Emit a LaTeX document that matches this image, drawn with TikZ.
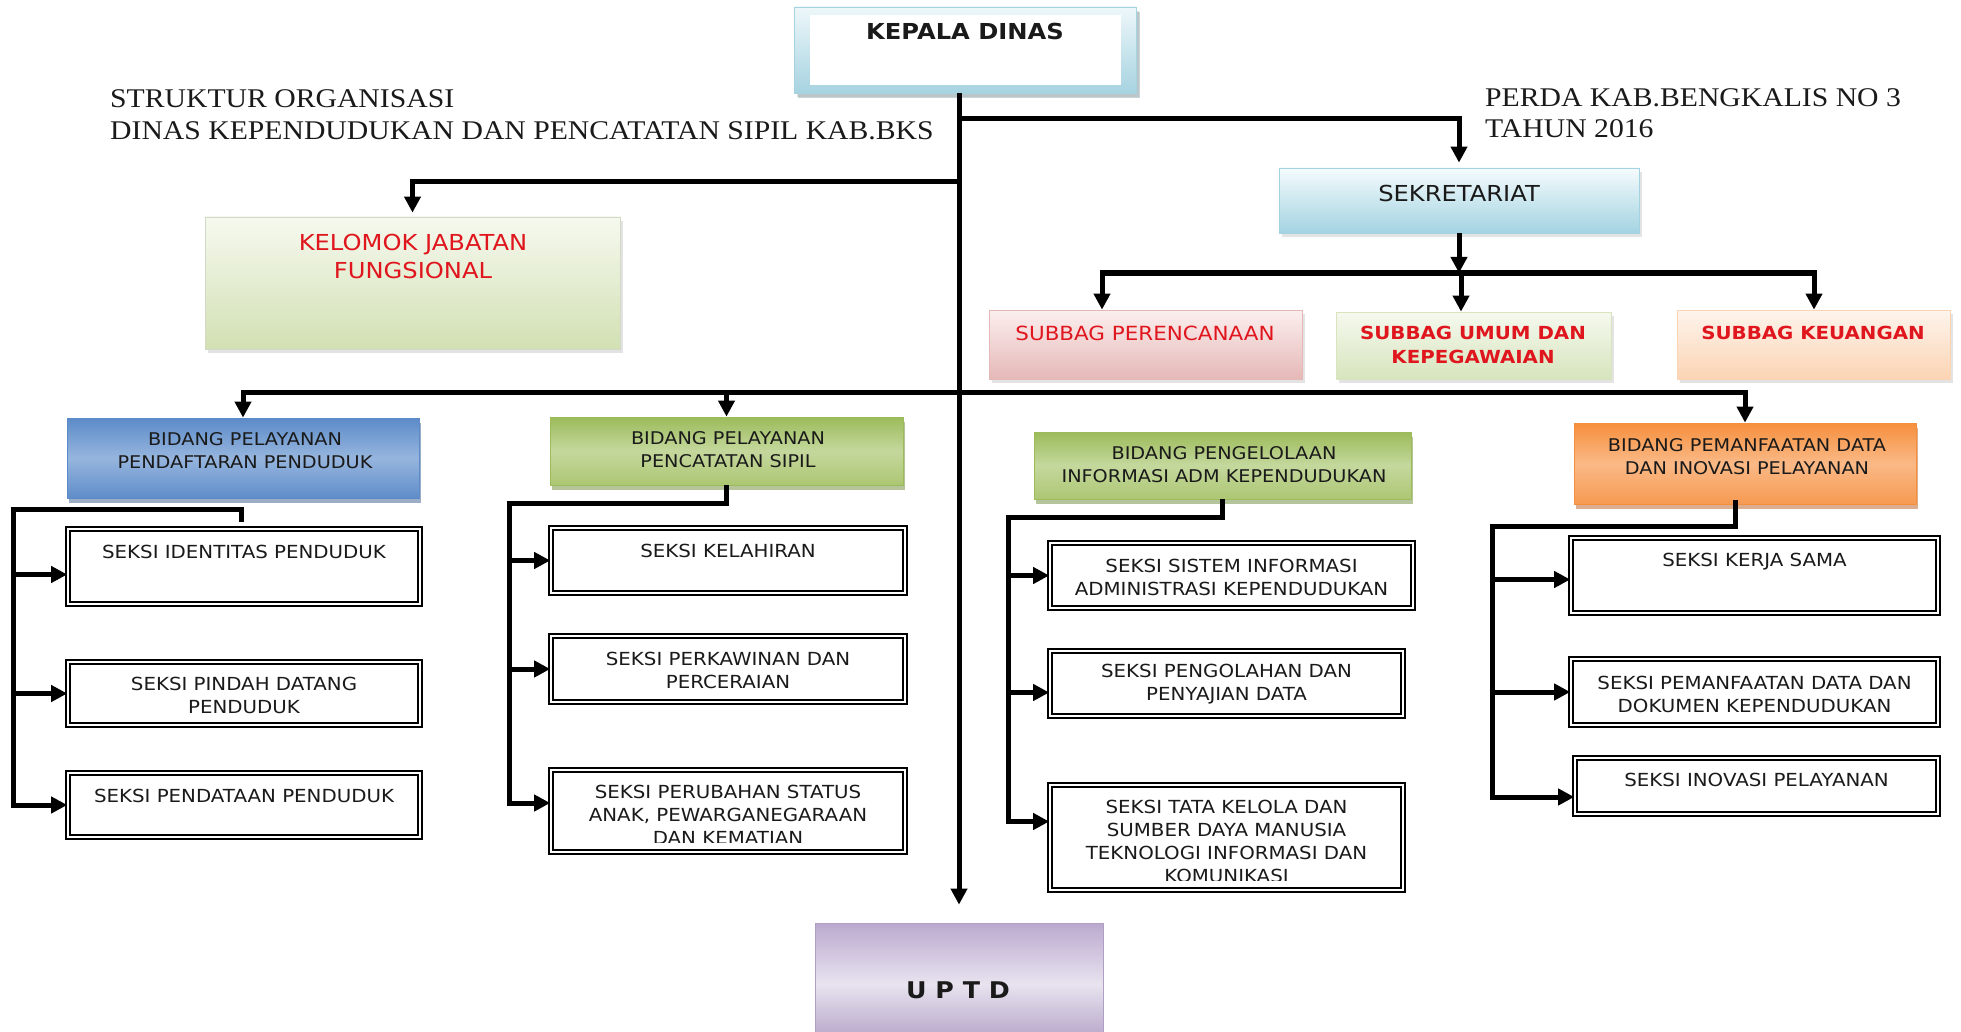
\documentclass[tikz,border=0pt]{standalone}
\usepackage{fontspec}
\setmainfont{Liberation Serif}[FakeStretch=1.1]
\setsansfont{DejaVu Sans}[FakeStretch=1.1]
\usetikzlibrary{arrows.meta,shadows}
\definecolor{ink}{HTML}{1A1A1A}
\definecolor{redink}{HTML}{E0161E}
\definecolor{kdtop}{HTML}{EEF7FA}
\definecolor{kdblue}{HTML}{A6D3E0}
\definecolor{sektop}{HTML}{F5FBFD}
\definecolor{sekblue}{HTML}{A3D3E1}
\definecolor{kjftop}{HTML}{F6F9EF}
\definecolor{kjfgreen}{HTML}{D2E0B3}
\definecolor{sbpinktop}{HTML}{FCEFEF}
\definecolor{sbpink}{HTML}{E5B8B7}
\definecolor{sbgreentop}{HTML}{F5F9EE}
\definecolor{sbgreen}{HTML}{D7E4BD}
\definecolor{sbpeachtop}{HTML}{FEF4EC}
\definecolor{sbpeach}{HTML}{FBD4B4}
\definecolor{bluetop}{HTML}{5B8BC8}
\definecolor{bluemid}{HTML}{96B5DE}
\definecolor{bluebot}{HTML}{5F8DC9}
\definecolor{bluedark}{HTML}{3A5E8E}
\definecolor{grntop}{HTML}{9CBB5A}
\definecolor{grnmid}{HTML}{C4D89D}
\definecolor{grnbot}{HTML}{ADC673}
\definecolor{grndark}{HTML}{6E8A3A}
\definecolor{orgtop}{HTML}{F68F3D}
\definecolor{orgmid}{HTML}{FAB986}
\definecolor{orgbot}{HTML}{F69A52}
\definecolor{orgdark}{HTML}{B85E22}
\definecolor{lavtop}{HTML}{BBA9CF}
\definecolor{lavmid}{HTML}{E8E3EF}
\definecolor{lavbot}{HTML}{B09FC5}
\tikzstyle{heading}=[inner sep=0pt,anchor=base west,text=ink,font=\rmfamily\fontsize{27}{32}\selectfont]
\tikzstyle{txt}=[inner sep=0pt,align=center,text=ink,font=\sffamily\fontsize{18}{23}\selectfont]
\tikzstyle{bigtxt}=[txt,font=\sffamily\fontsize{22}{28}\selectfont]
\tikzstyle{redtxt}=[txt,text=redink,font=\sffamily\fontsize{19.5}{24}\selectfont]
\tikzstyle{redbold}=[txt,text=redink,font=\sffamily\bfseries\fontsize{18}{24}\selectfont]
\tikzstyle{panel}=[rectangle,draw,line width=0.8pt,drop shadow={shadow xshift=3pt,shadow yshift=-4pt,fill=black!22}]
\tikzstyle{kepala}=[panel,draw=kdblue,top color=kdtop,bottom color=kdblue,drop shadow={shadow xshift=4pt,shadow yshift=-5pt,fill=kdblue!50!gray}]
\tikzstyle{sekbox}=[panel,draw=sekblue,top color=sektop,bottom color=sekblue]
\tikzstyle{kjfbox}=[panel,draw=kjfgreen!80!black!50,top color=kjftop,bottom color=kjfgreen]
\tikzstyle{sbbox}=[panel]
\tikzstyle{bidang}=[rectangle,draw,line width=0.8pt]
\tikzstyle{bidblue}=[bidang,draw=bluetop,top color=bluetop,bottom color=bluebot,middle color=bluemid,drop shadow={shadow xshift=2pt,shadow yshift=-5pt,fill=bluedark}]
\tikzstyle{bidgreen}=[bidang,draw=grntop,top color=grntop,bottom color=grnbot,middle color=grnmid,drop shadow={shadow xshift=2pt,shadow yshift=-5pt,fill=grndark}]
\tikzstyle{bidorange}=[bidang,draw=orgtop,top color=orgtop,bottom color=orgbot,middle color=orgmid,drop shadow={shadow xshift=2pt,shadow yshift=-5pt,fill=orgdark}]
\tikzstyle{seksi}=[rectangle,draw=black,line width=1.6pt,double=white,double distance=2.6pt,fill=white]
\tikzstyle{link}=[line width=5pt]
\tikzstyle{arr}=[link,-{Triangle[length=16pt,width=16pt]}]

\begin{document}
\begin{tikzpicture}[x=1pt,y=-1pt]
\useasboundingbox (0,0) rectangle (1961,1032);

% headings
\node[heading] (ttl1) at (110,108) {STRUKTUR ORGANISASI};
\node[heading] (ttl2) at (110,140) {DINAS KEPENDUDUKAN DAN PENCATATAN SIPIL KAB.BKS};
\node[heading] (perda1) at (1485,107) {PERDA KAB.BENGKALIS NO 3};
\node[heading] (perda2) at (1485,138) {TAHUN 2016};

% top level
\node[kepala,minimum width=342pt,minimum height=86pt] (kd) at (965,50) {};
\node[rectangle,fill=white,minimum width=311pt,minimum height=70pt] (kdin) at (965.5,50) {};
\node[txt,font=\sffamily\bfseries\fontsize{22}{26}\selectfont] (kdt) at (965,31) {KEPALA DINAS};
\node[sekbox,minimum width=360pt,minimum height=65pt] (sek) at (1459,200.5) {};
\node[bigtxt] (sekt) at (1459,193) {SEKRETARIAT};
\node[kjfbox,minimum width=415pt,minimum height=132pt] (kjf) at (412.5,283) {};
\node[bigtxt,text=redink] (kjft) at (413,256) {KELOMOK JABATAN\\FUNGSIONAL};

% subbagian
\node[sbbox,draw=sbpink,top color=sbpinktop,bottom color=sbpink,minimum width=313pt,minimum height=69pt] (sb1) at (1145.5,344.5) {};
\node[redtxt] (sb1t) at (1145,333) {SUBBAG PERENCANAAN};
\node[sbbox,draw=sbgreen,top color=sbgreentop,bottom color=sbgreen,minimum width=275pt,minimum height=67pt] (sb2) at (1473.5,345.5) {};
\node[redbold] (sb2t) at (1473,345) {SUBBAG UMUM DAN\\KEPEGAWAIAN};
\node[sbbox,draw=sbpeach,top color=sbpeachtop,bottom color=sbpeach,minimum width=273pt,minimum height=69pt] (sb3) at (1813.5,344.5) {};
\node[redbold] (sb3t) at (1813,333) {SUBBAG KEUANGAN};

% bidang
\node[bidblue,minimum width=352pt,minimum height=80pt] (bd1) at (243,458) {};
\node[txt,font=\sffamily\fontsize{17.5}{23}\selectfont] (bd1t) at (245,450.5) {BIDANG PELAYANAN\\PENDAFTARAN PENDUDUK};
\node[bidgreen,minimum width=353pt,minimum height=68pt] (bd2) at (726.5,451) {};
\node[txt,font=\sffamily\fontsize{17.5}{23}\selectfont] (bd2t) at (728,449.5) {BIDANG PELAYANAN\\PENCATATAN SIPIL};
\node[bidgreen,minimum width=377pt,minimum height=67pt] (bd3) at (1222.5,465.5) {};
\node[txt,font=\sffamily\fontsize{17.5}{23}\selectfont] (bd3t) at (1224,465) {BIDANG PENGELOLAAN\\INFORMASI ADM KEPENDUDUKAN};
\node[bidorange,minimum width=342pt,minimum height=81pt] (bd4) at (1745,463.5) {};
\node[txt,font=\sffamily\fontsize{17.5}{23}\selectfont] (bd4t) at (1747,456.5) {BIDANG PEMANFAATAN DATA\\DAN INOVASI PELAYANAN};

% seksi, column 1
\node[seksi,minimum width=352pt,minimum height=75pt] (pd1) at (244,566.5) {};
\node[txt] (pd1t) at (244,552) {SEKSI IDENTITAS PENDUDUK};
\node[seksi,minimum width=352pt,minimum height=63pt] (pd2) at (244,693.5) {};
\node[txt] (pd2t) at (244,695.5) {SEKSI PINDAH DATANG\\PENDUDUK};
\node[seksi,minimum width=352pt,minimum height=64pt] (pd3) at (244,805) {};
\node[txt] (pd3t) at (244,796) {SEKSI PENDATAAN PENDUDUK};

% seksi, column 2
\node[seksi,minimum width=354pt,minimum height=65pt] (pc1) at (728,560.5) {};
\node[txt] (pc1t) at (728,551) {SEKSI KELAHIRAN};
\node[seksi,minimum width=354pt,minimum height=66pt] (pc2) at (728,669) {};
\node[txt] (pc2t) at (728,670) {SEKSI PERKAWINAN DAN\\PERCERAIAN};
\node[seksi,minimum width=354pt,minimum height=82pt] (pc3) at (728,811) {};
\begin{scope}
\clip (556,772) rectangle (900,842);
\node[txt] (pc3t) at (728,815) {SEKSI PERUBAHAN STATUS\\ANAK, PEWARGANEGARAAN\\DAN KEMATIAN};
\end{scope}

% seksi, column 3
\node[seksi,minimum width=363pt,minimum height=65pt] (ks1) at (1231.5,575.5) {};
\node[txt] (ks1t) at (1231.5,577) {SEKSI SISTEM INFORMASI\\ADMINISTRASI KEPENDUDUKAN};
\node[seksi,minimum width=353pt,minimum height=65pt] (ks2) at (1226.5,683.5) {};
\node[txt] (ks2t) at (1226.5,684.5) {SEKSI PENGOLAHAN DAN\\PENYAJIAN DATA};
\node[seksi,minimum width=353pt,minimum height=105pt] (ks3) at (1226.5,837.5) {};
\begin{scope}
\clip (1055,787) rectangle (1398,880);
\node[txt] (ks3t) at (1226.5,841) {SEKSI TATA KELOLA DAN\\SUMBER DAYA MANUSIA\\TEKNOLOGI INFORMASI DAN\\KOMUNIKASI};
\end{scope}

% seksi, column 4
\node[seksi,minimum width=367pt,minimum height=75pt] (pm1) at (1754.5,575.5) {};
\node[txt] (pm1t) at (1754.5,562) {SEKSI KERJA SAMA};
\node[seksi,minimum width=367pt,minimum height=66pt] (pm2) at (1754.5,692) {};
\node[txt] (pm2t) at (1754.5,694) {SEKSI PEMANFAATAN DATA DAN\\DOKUMEN KEPENDUDUKAN};
\node[seksi,minimum width=363pt,minimum height=56pt] (pm3) at (1756.5,786) {};
\node[txt] (pm3t) at (1756.5,780) {SEKSI INOVASI PELAYANAN};

% uptd
\node[rectangle,draw=lavbot,line width=0.8pt,top color=lavtop,bottom color=lavbot,middle color=lavmid,minimum width=288pt,minimum height=122pt] (uptd) at (959,984) {};
\node[txt,font=\sffamily\bfseries\fontsize{23}{26}\selectfont] (uptdt) at (958,990) {U P T D};

% connectors
\coordinate (j1) at (959,119);
\coordinate (j2) at (959,182);
\coordinate (b0) at (959,392);
\coordinate (hs) at (1461,273);
\coordinate (hl) at (1102,273);
\coordinate (hr) at (1814,273);
\draw[arr,shorten >=18pt] (kd.south -| uptd.north) -- (uptd.north);
\draw[arr,shorten >=5pt] (j1) -| (sek.north);
\draw[arr,shorten >=4pt] (j2) -| (kjf.north);
\draw[arr] (sek.south) -- (sek.south |- hs);
\draw[arr] (hs) -| (hl |- sb1.north);
\draw[arr] (hs) -- (hs |- sb2.north);
\draw[arr] (hs) -| (hr |- sb3.north);
\foreach \b in {bd1,bd2,bd4}
  \draw[arr] (b0) -| (\b.north);

\coordinate (t1) at (241,522);
\coordinate (c1) at (13,509);
\draw[arr] (t1) |- (c1) |- (pd3.west);
\foreach \s/\y in {pd1/-8,pd2/0}
  \draw[arr] (c1) |- ([yshift=\y pt]\s.west);

\coordinate (c2) at (509,503);
\draw[arr] (bd2.south) |- (c2) |- ([yshift=8pt]pc3.west);
\foreach \s in {pc1,pc2}
  \draw[arr] (c2) |- (\s.west);

\coordinate (c3) at (1008,517);
\draw[arr] (bd3.south) |- (c3) |- ([yshift=16pt]ks3.west);
\foreach \s/\y in {ks1/0,ks2/-9}
  \draw[arr] (c3) |- ([yshift=\y pt]\s.west);

\coordinate (t4) at (1735,500);
\coordinate (c4) at (1492,526);
\draw[arr] (t4) |- (c4) |- ([yshift=-11pt]pm3.west);
\foreach \s/\y in {pm1/-4,pm2/0}
  \draw[arr] (c4) |- ([yshift=\y pt]\s.west);
\end{tikzpicture}
\end{document}
